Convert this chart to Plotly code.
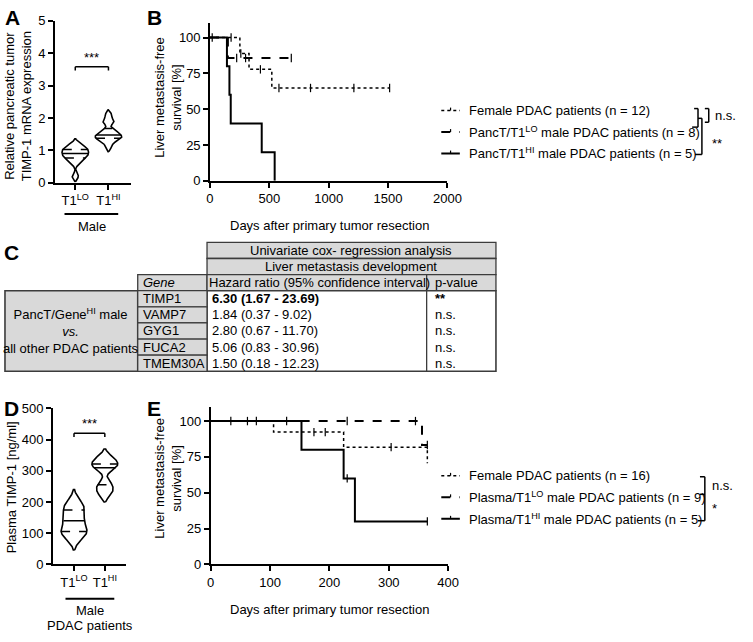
import numpy as np
import plotly.graph_objects as go

W, H = 753, 642

# ---------------- data ----------------
# A: relative TIMP-1 mRNA expression in male pancreatic tumours
violin_groups = ['T1<sup>LO</sup>', 'T1<sup>HI</sup>']
a_lo = [0.2, 0.6, 0.72, 0.78, 0.82, 0.88, 0.92, 0.96, 1.02, 1.06, 1.1, 1.2]
a_hi = [1.12, 1.28, 1.34, 1.38, 1.42, 1.45, 1.5, 1.56, 1.62, 1.85, 1.92, 2.1]

# D: plasma TIMP-1 [ng/ml]
d_lo = [90, 100, 105, 112, 140, 150, 174, 185, 196]
d_hi = [230, 255, 310, 322, 340]

# B: liver metastasis-free survival, PancT groups
b_names = ['Female PDAC patients (n = 12)',
           'PancT/T1<sup>LO</sup> male PDAC patients (n = 8)',
           'PancT/T1<sup>HI</sup> male PDAC patients (n = 5)']
b_fem_t = [0, 252, 329, 521, 1513]
b_fem_s = [100, 88.9, 77.8, 64.8, 64.8]
b_fem_cens = [178, 260, 425, 581, 847, 1212, 1513]
b_lo_t = [0, 151, 685]
b_lo_s = [100, 85.7, 85.7]
b_lo_cens = [19, 225, 300, 685]
b_hi_t = [0, 143, 164, 175, 436, 545]
b_hi_s = [100, 80, 60, 40, 20, 0]
b_hi_cens = []

# E: liver metastasis-free survival, plasma groups
e_names = ['Female PDAC patients (n = 16)',
           'Plasma/T1<sup>LO</sup> male PDAC patients (n = 9)',
           'Plasma/T1<sup>HI</sup> male PDAC patients (n = 5)']
e_fem_t = [0, 106, 224, 365]
e_fem_s = [100, 92.3, 81.8, 70.5]
e_fem_cens = [174, 193, 304]
e_lo_t = [0, 356, 365]
e_lo_s = [100, 83.3, 83.3]
e_lo_cens = [34, 62, 77, 128, 230, 345, 365]
e_hi_t = [0, 153, 224, 243, 365]
e_hi_s = [100, 80, 60, 30, 30]
e_hi_cens = [230, 365]

# C: cox regression table
genes = ['TIMP1', 'VAMP7', 'GYG1', 'FUCA2', 'TMEM30A']
hazard = ['6.30 (1.67 - 23.69)', '1.84 (0.37 - 9.02)', '2.80 (0.67 - 11.70)',
          '5.06 (0.83 - 30.96)', '1.50 (0.18 - 12.23)']
pvals = ['**', 'n.s.', 'n.s.', 'n.s.', 'n.s.']

FONT = 'Liberation Sans, Arial, sans-serif'


def px(x):
    return x / W


def py(y):
    return 1 - y / H


def surv_at(ts, ss, t):
    i = max(k for k in range(len(ts)) if ts[k] <= t)
    return ss[i]


fig = go.Figure()


def add_violin(vals, pos, bw, half, xa, ya):
    v = np.asarray(vals, float)
    grid = np.linspace(v.min() - 2 * bw, v.max() + 2 * bw, 300)
    dens = np.exp(-0.5 * ((grid[:, None] - v[None, :]) / bw) ** 2).sum(1)
    w = dens / dens.max() * half
    xs = np.concatenate([pos + w, (pos - w)[::-1], [pos + w[0]]])
    ys = np.concatenate([grid, grid[::-1], [grid[0]]])
    fig.add_trace(go.Scatter(x=xs, y=ys, mode='lines', xaxis=xa, yaxis=ya,
                             line=dict(color='black', width=1.6), showlegend=False))
    for q, dash in zip(np.percentile(v, [25, 50, 75]), ['dash', 'solid', 'dash']):
        wq = np.interp(q, grid, w)
        fig.add_trace(go.Scatter(x=[pos - wq, pos + wq], y=[q, q], mode='lines',
                                 xaxis=xa, yaxis=ya, showlegend=False,
                                 line=dict(color='black', width=1.5, dash=dash)))


add_violin(a_lo, 1, 0.08, 0.40, 'x', 'y')
add_violin(a_hi, 2, 0.08, 0.40, 'x', 'y')
add_violin(d_lo, 1, 22, 0.42, 'x3', 'y3')
add_violin(d_hi, 2, 15, 0.42, 'x3', 'y3')

styles = [dict(dash='dot', width=1.5), dict(dash='dash', width=2), dict(dash='solid', width=2)]


def add_km(ts, ss, cens, style, xa, ya):
    fig.add_trace(go.Scatter(x=ts, y=ss, mode='lines', line_shape='hv', xaxis=xa, yaxis=ya,
                             line=dict(color='black', **style), showlegend=False))
    if cens:
        fig.add_trace(go.Scatter(x=cens, y=[surv_at(ts, ss, c) for c in cens], mode='markers',
                                 xaxis=xa, yaxis=ya, showlegend=False, cliponaxis=False,
                                 marker=dict(symbol='line-ns-open', size=6, color='black',
                                             line=dict(color='black', width=1.2))))


add_km(b_fem_t, b_fem_s, b_fem_cens, styles[0], 'x2', 'y2')
add_km(b_lo_t, b_lo_s, b_lo_cens, styles[1], 'x2', 'y2')
add_km(b_hi_t, b_hi_s, b_hi_cens, styles[2], 'x2', 'y2')
add_km(e_fem_t, e_fem_s, e_fem_cens, styles[0], 'x4', 'y4')
add_km(e_lo_t, e_lo_s, e_lo_cens, styles[1], 'x4', 'y4')
add_km(e_hi_t, e_hi_s, e_hi_cens, styles[2], 'x4', 'y4')

ax = dict(showline=True, linecolor='black', linewidth=1.5, ticks='outside', ticklen=5,
          tickwidth=1.5, tickcolor='black', showgrid=False, zeroline=False,
          tickfont=dict(size=13, color='black', family=FONT), fixedrange=True)

fig.update_layout(
    xaxis=dict(ax, domain=[px(52), px(130)], range=[0.382, 2.676], tickvals=[1, 2],
               ticktext=violin_groups, anchor='y'),
    yaxis=dict(ax, domain=[py(180), py(14)], range=[0, 5], dtick=1, anchor='x'),
    xaxis2=dict(ax, domain=[px(211), px(454.3)], range=[0, 2000], dtick=500, anchor='y2'),
    yaxis2=dict(ax, domain=[py(178), py(16.6)], range=[0, 110], tickvals=[0, 25, 50, 75, 100], anchor='x2'),
    xaxis3=dict(ax, domain=[px(50), px(125)], range=[0.313, 2.687], tickvals=[1, 2],
                ticktext=violin_groups, anchor='y3'),
    yaxis3=dict(ax, domain=[py(570.7), py(411)], range=[0, 500], dtick=100, anchor='x3'),
    xaxis4=dict(ax, domain=[px(211.7), px(455)], range=[0, 400], dtick=100, anchor='y4'),
    yaxis4=dict(ax, domain=[py(570.7), py(409.3)], range=[0, 110], tickvals=[0, 25, 50, 75, 100], anchor='x4'),
)

shapes = []
anns = []


def seg(x0, y0, x1, y1, width=1.5, dash='solid', color='black'):
    shapes.append(dict(type='line', xref='paper', yref='paper', x0=px(x0), y0=py(y0),
                       x1=px(x1), y1=py(y1), line=dict(color=color, width=width, dash=dash)))


def rect(x0, y0, x1, y1, fill, lw=1.3):
    shapes.append(dict(type='rect', xref='paper', yref='paper', x0=px(x0), y0=py(y0),
                       x1=px(x1), y1=py(y1), fillcolor=fill, layer='below',
                       line=dict(color='#3c3c3c', width=lw)))


def ann(x, y, text, size=13, xanchor='center', yanchor='middle', angle=0, **kw):
    anns.append(dict(x=px(x), y=py(y), xref='paper', yref='paper', text=text, showarrow=False,
                     xanchor=xanchor, yanchor=yanchor, textangle=angle,
                     font=dict(size=size, color='black', family=FONT), **kw))


# panel letters
for letter, x, y in [('A', 9, 11), ('B', 154, 11), ('C', 8, 251), ('D', 8, 411), ('E', 154, 411)]:
    ann(x, y, '<b>%s</b>' % letter, size=21)

# axis titles
ann(14, 102, 'Relative pancreatic tumor<br>TIMP-1 mRNA expression', angle=-90)
ann(168, 92, 'Liver metastasis-free<br>survival [%]', angle=-90)
ann(333, 224, 'Days after primary tumor resection')
ann(8, 492, 'Plasma TIMP-1 [ng/ml]', angle=-90)
ann(168, 482, 'Liver metastasis-free<br>survival [%]', angle=-90)
ann(333, 617, 'Days after primary tumor resection')

# group labels under violins
seg(62, 212, 117, 212, width=2)
ann(90, 225, 'Male')
seg(63, 606, 113, 606, width=2)
ann(88, 618, 'Male')
ann(88, 633, 'PDAC patients')

# significance brackets on violins (data coords)
for xa, ya, yb, drop in [('x', 'y', 3.58, 0.12), ('x3', 'y3', 420, 12)]:
    for x0, y0, x1, y1 in [(1, yb, 2, yb), (1, yb, 1, yb - drop), (2, yb, 2, yb - drop)]:
        shapes.append(dict(type='line', xref=xa, yref=ya, x0=x0, y0=y0, x1=x1, y1=y1,
                           line=dict(color='black', width=1.5)))
    anns.append(dict(x=1.5, y=yb, xref=xa, yref=ya, text='***', showarrow=False,
                     yanchor='bottom', font=dict(size=13, color='black', family=FONT)))

# legends for survival panels
for names, rows in [(b_names, [106, 128, 150]), (e_names, [480, 502, 524])]:
    for name, y, st in zip(names, rows, styles):
        seg(448, y, 467, y, width=st['width'], dash=st['dash'])
        seg(457.5, y - 3, 457.5, y, width=1.2)
        ann(474, y, name, xanchor='left')

# B brackets
seg(707, 104, 711, 104); seg(711, 104, 711, 123); seg(705, 123, 711, 123)
seg(718, 104, 722, 104); seg(722, 104, 722, 118); seg(718, 118, 722, 118)
ann(726, 111, 'n.s.', xanchor='left')
seg(711, 114, 715, 114); seg(715, 114, 715, 151); seg(708, 151, 715, 151)
ann(723, 140, '**', xanchor='left')

# E brackets
seg(713, 481, 718, 481); seg(718, 481, 718, 526); seg(713, 499, 718, 499); seg(711, 526, 718, 526)
ann(723, 490, 'n.s.', xanchor='left')
ann(723, 514, '*', xanchor='left')

# table C
GRAY = '#d9d9d9'
top, rh = 241, 16.5
c0, c1, c2, c3, c4 = 1, 137, 208, 433, 504
rect(c2, top, c4, top + rh, GRAY)
ann((c2 + c4) / 2, top + rh / 2, 'Univariate cox- regression analysis')
rect(c2, top + rh, c4, top + 2 * rh, GRAY)
ann((c2 + c4) / 2, top + 1.5 * rh, 'Liver metastasis development')
rect(c1, top + 2 * rh, c2, top + 3 * rh, GRAY)
ann(c1 + 3, top + 2.5 * rh, '<i>Gene</i>', xanchor='left')
rect(c2, top + 2 * rh, c3, top + 3 * rh, GRAY)
ann(c2, top + 2.5 * rh, 'Hazard ratio (95% confidence interval)', xanchor='left')
rect(c3, top + 2 * rh, c4, top + 3 * rh, GRAY)
ann(c3 + 6, top + 2.5 * rh, 'p-value', xanchor='left')
d0 = top + 3 * rh
d1 = d0 + len(genes) * rh
rect(c0, d0, c1, d1, GRAY, lw=1.6)
ann((c0 + c1) / 2, (d0 + d1) / 2,
    'PancT/Gene<sup>HI</sup> male<br><i>vs.</i><br>all other PDAC patients')
rect(c2, d0, c4, d1, 'white', lw=1.6)
seg(c3, d0, c3, d1, width=1.3, color='#3c3c3c')
for i, (g, hr, p) in enumerate(zip(genes, hazard, pvals)):
    y0 = d0 + i * rh
    rect(c1, y0, c2, y0 + rh, GRAY)
    ann(c1 + 3, y0 + rh / 2, g, xanchor='left')
    bold = p != 'n.s.'
    ann(c2 + 3, y0 + rh / 2, '<b>%s</b>' % hr if bold else hr, xanchor='left')
    ann(c3 + 6, y0 + rh / 2, '<b>%s</b>' % p if bold else p, xanchor='left')

fig.update_layout(width=W, height=H, margin=dict(l=0, r=0, t=0, b=0),
                  paper_bgcolor='white', plot_bgcolor='rgba(0,0,0,0)',
                  font=dict(family=FONT, size=13, color='black'),
                  shapes=shapes, annotations=anns, showlegend=False)

# the page body has a default 8px margin; drop it so paper coords match the window
fig.write_html('out.html', config={'displayModeBar': False},
               post_script="document.body.style.margin='0';")
